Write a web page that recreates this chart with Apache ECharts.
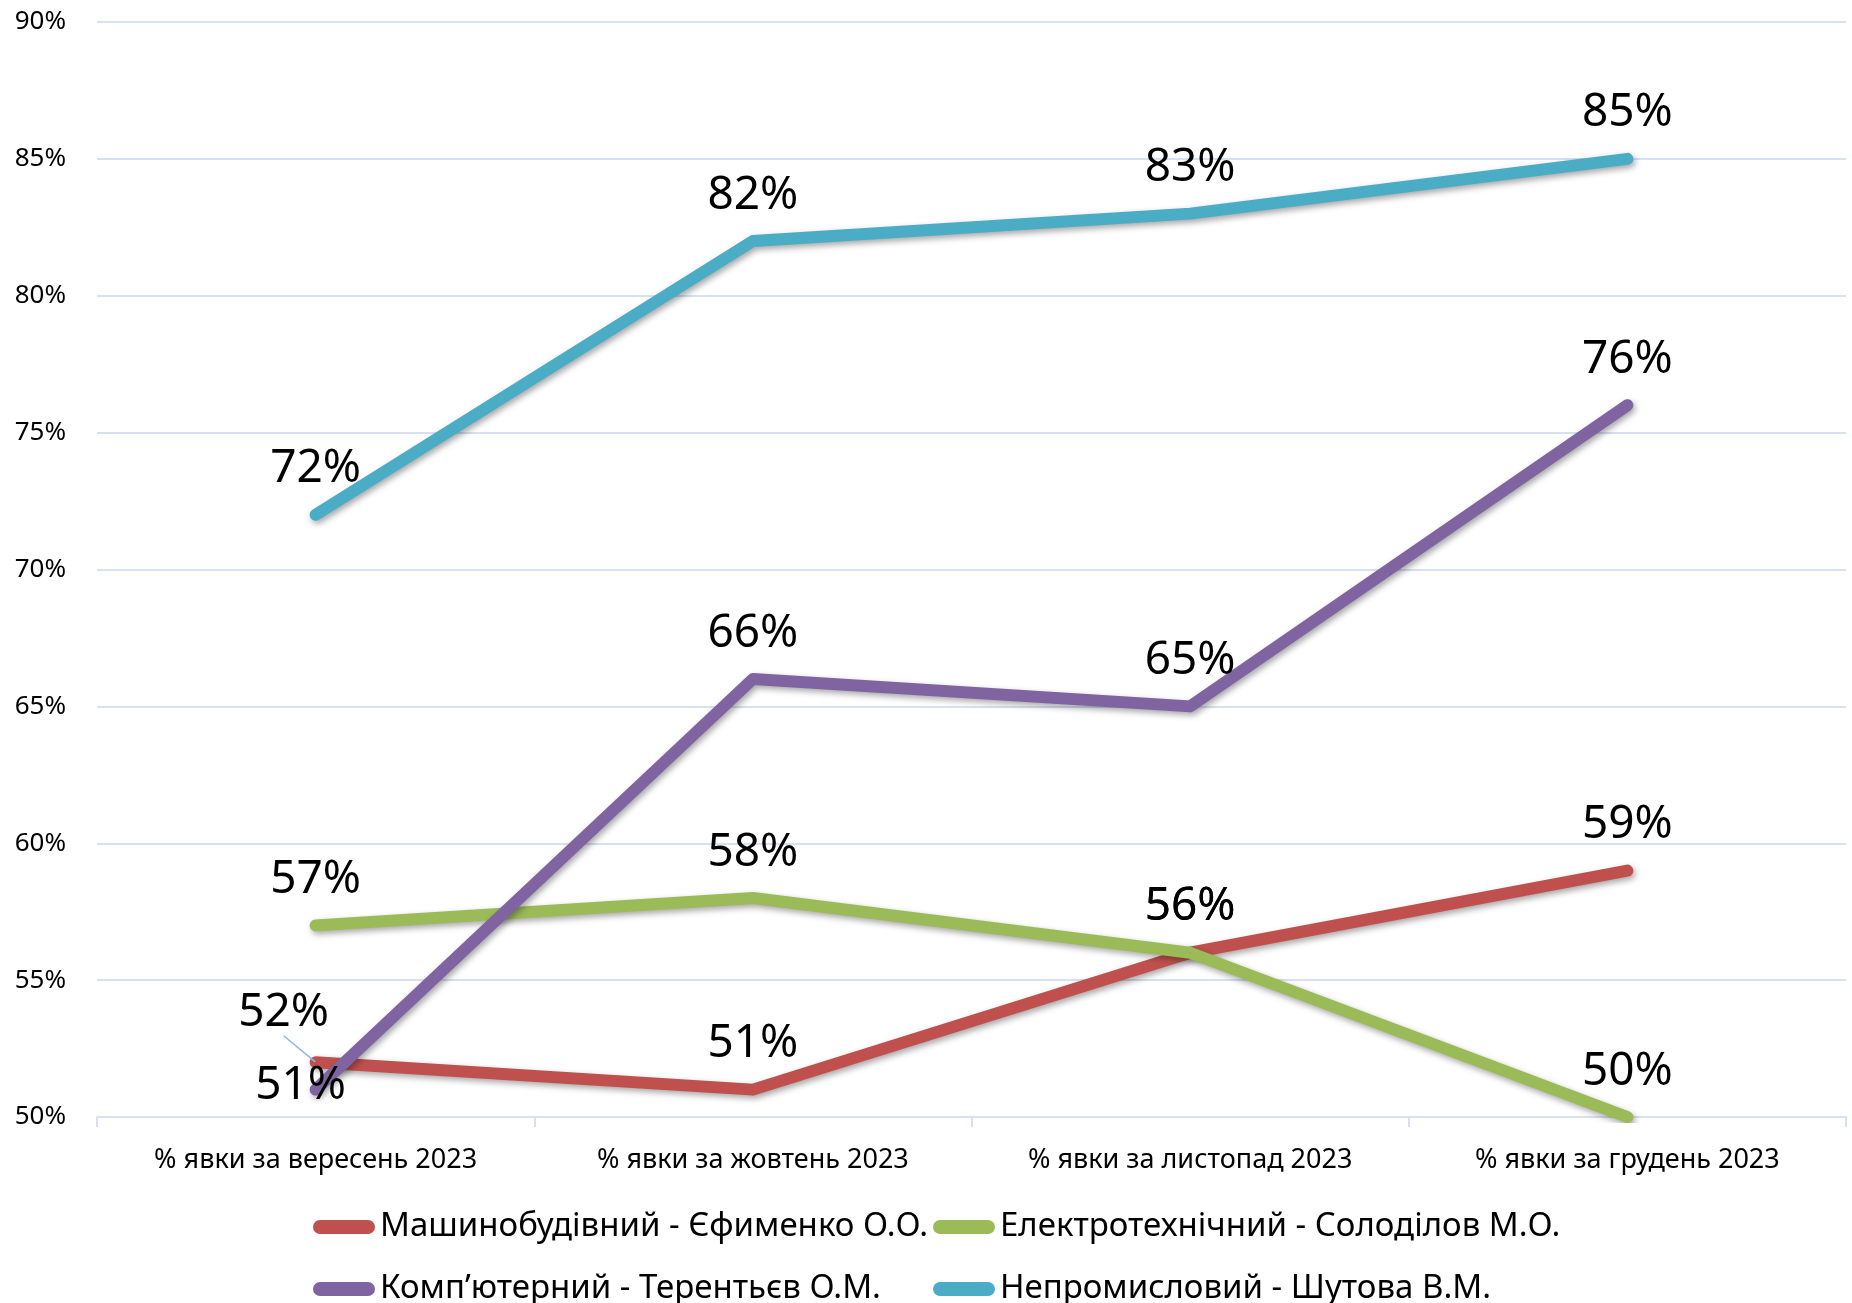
<!DOCTYPE html>
<html><head><meta charset="utf-8">
<script src="https://cdn.jsdelivr.net/npm/echarts@6/dist/echarts.min.js"></script>
<style>html,body{margin:0;padding:0;background:#fff}#c{width:1852px;height:1303px}</style>
</head><body><div id="c"></div>
<script>
const categories = ['% явки за вересень 2023','% явки за жовтень 2023','% явки за листопад 2023','% явки за грудень 2023'];
const seriesNames = ['Машинобудівний - Єфименко О.О.','Електротехнічний - Солоділов М.О.','Комп’ютерний - Терентьєв О.М.','Непромисловий - Шутова В.М.'];
const mashynobudivnyi = [52, 51, 56, 59];
const elektrotekhnichnyi = [57, 58, 56, 50];
const kompiuternyi = [51, 66, 65, 76];
const nepromyslovyi = [72, 82, 83, 85];
const yTicks = [50, 55, 60, 65, 70, 75, 80, 85, 90];

const colors = ['#C0504D','#9BBB59','#8064A2','#4BACC6'];
const FONT = 'Noto Sans';
const chart = echarts.init(document.getElementById('c'));

function mkSeries(name, data, color, extra) {
  return Object.assign({
    type: 'line', name: name, data: data,
    symbol: 'circle', symbolSize: 1, showSymbol: true,
    itemStyle: { color: color },
    lineStyle: { color: color, width: 12, cap: 'round', join: 'round',
      shadowColor: 'rgba(0,0,0,0.35)', shadowBlur: 6, shadowOffsetX: 2, shadowOffsetY: 3 },
    label: { show: true, position: 'top', distance: 22, formatter: '{c}%',
      fontFamily: FONT, fontSize: 46, color: '#000', lineHeight: 46 },
    labelLine: { show: false },
    emphasis: { disabled: true },
    animation: false
  }, extra || {});
}

const series = [
  mkSeries(seriesNames[0], mashynobudivnyi.map((v, i) => i === 0 ? { value: v, labelLine: { show: true, lineStyle: { color: '#8EB4E3', width: 1.5 } } } : v), colors[0], {
    labelLayout: function (p) { return p.dataIndex === 0 ? { dx: -32, dy: -4 } : {}; }
  }),
  mkSeries(seriesNames[1], elektrotekhnichnyi, colors[1]),
  mkSeries(seriesNames[2], kompiuternyi.map((v, i) => i === 0 ? { value: v, label: { position: 'inside', offset: [-15, -4] } } : v), colors[2]),
  mkSeries(seriesNames[3], nepromyslovyi, colors[3])
];

const legendCommon = {
  orient: 'horizontal', itemWidth: 62, itemHeight: 14, padding: 0,
  icon: 'path://M7,0 H55 A7,7 0 0 1 55,14 H7 A7,7 0 0 1 7,0 Z',
  textStyle: { fontFamily: FONT, fontSize: 33, color: '#000', lineHeight: 36 },
  selectedMode: false
};

chart.setOption({
  backgroundColor: '#fff',
  animation: false,
  color: colors,
  grid: { left: 97, right: 6, top: 22, bottom: 186, containLabel: false },
  xAxis: {
    type: 'category', data: categories, boundaryGap: true,
    axisLine: { show: true, lineStyle: { color: '#D6E2F2', width: 2 } },
    axisTick: { show: true, length: 10, lineStyle: { color: '#D6E2F2', width: 2 } },
    axisLabel: { fontFamily: FONT, fontSize: 27, color: '#000', margin: 30 },
    splitLine: { show: false }
  },
  yAxis: {
    type: 'value', min: 50, max: 90, interval: 5,
    axisLine: { show: false }, axisTick: { show: false },
    axisLabel: { formatter: '{value}%', fontFamily: FONT, fontSize: 26, color: '#000', margin: 31 },
    splitLine: { show: true, lineStyle: { color: '#D6E2F2', width: 2 } }
  },
  legend: [
    Object.assign({ left: 313, top: 1209, data: [seriesNames[0]] }, legendCommon),
    Object.assign({ left: 313, top: 1271, data: [seriesNames[2]] }, legendCommon),
    Object.assign({ left: 933, top: 1209, data: [seriesNames[1]] }, legendCommon),
    Object.assign({ left: 933, top: 1271, data: [seriesNames[3]] }, legendCommon)
  ],
  series: series
});
</script></body></html>
